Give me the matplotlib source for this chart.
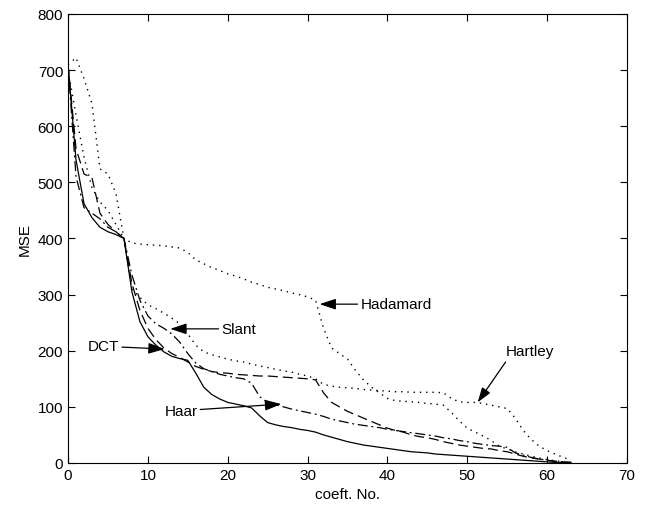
import matplotlib.pyplot as plt
import numpy as np

# numero do coeficiente (0..63)
coef = np.arange(64)

haar = [710, 540, 462, 437, 420, 412, 407, 400, 305, 252,
        225, 210, 198, 190, 186, 183, 160, 135, 122, 114,
        108, 105, 102, 98, 84, 72, 68, 65, 63, 60,
        58, 55, 50, 46, 42, 38, 35, 32, 30, 28,
        26, 24, 22, 20, 19, 18, 16, 15, 14, 13,
        12, 11, 10, 9, 8, 7, 6, 5, 4, 3,
        2, 1, 1, 0]
slant = [710, 560, 515, 508, 445, 425, 412, 400, 320, 272,
         240, 220, 205, 195, 188, 180, 172, 167, 163, 161,
         160, 158, 157, 156, 155, 155, 154, 153, 152, 151,
         150, 148, 125, 108, 100, 92, 86, 80, 74, 68,
         62, 58, 55, 50, 47, 45, 42, 38, 35, 32,
         30, 28, 26, 25, 22, 20, 16, 12, 9, 7,
         5, 3, 2, 1]
dct = [710, 510, 455, 445, 435, 420, 412, 400, 335, 290,
       262, 248, 240, 230, 215, 195, 178, 168, 163, 158,
       155, 152, 150, 142, 118, 108, 104, 100, 96, 93,
       90, 87, 83, 78, 75, 72, 69, 67, 65, 63,
       60, 58, 56, 54, 52, 50, 48, 45, 43, 40,
       38, 35, 33, 31, 30, 28, 18, 14, 10, 7,
       5, 3, 2, 1]
hadamard = [710, 722, 685, 640, 524, 515, 480, 400, 392, 390,
            389, 388, 387, 385, 383, 375, 362, 355, 348, 343,
            337, 333, 328, 322, 318, 313, 310, 307, 303, 300,
            296, 290, 240, 205, 195, 185, 165, 148, 135, 125,
            115, 111, 110, 109, 108, 106, 105, 103, 90, 75,
            62, 55, 48, 40, 30, 25, 20, 16, 12, 9,
            6, 4, 2, 1]
hartley = [700, 620, 545, 490, 465, 450, 425, 400, 310, 295,
           282, 275, 267, 258, 248, 230, 210, 198, 193, 189,
           185, 182, 180, 176, 173, 170, 167, 164, 162, 158,
           155, 150, 140, 137, 135, 134, 133, 131, 130, 129,
           128, 127, 127, 126, 126, 126, 126, 125, 115, 109,
           108, 108, 106, 103, 100, 97, 80, 58, 42, 30,
           22, 16, 10, 5]

fig = plt.figure(figsize=(6.48, 5.1), dpi=100)
ax = fig.add_axes([0.105, 0.0902, 0.8626, 0.8804])

# curvas
ax.plot(coef, haar, color='black', linestyle='-', linewidth=0.9)
ax.plot(coef, slant, color='black', linestyle=(0, (8, 4)), linewidth=0.9)
ax.plot(coef, dct, color='black', linestyle=(0, (8, 3, 1.5, 3)), linewidth=0.9)
ax.plot(coef, hadamard, color='black', linestyle=(0, (1, 3.5)), linewidth=1.0)
ax.plot(coef, hartley, color='black', linestyle=(0, (1, 3.5)), linewidth=1.0)

# setas com os nomes
seta = dict(arrowstyle='-|>,head_length=0.9,head_width=0.3', color='black',
            linewidth=0.9, shrinkA=0, shrinkB=0)
fonte = dict(fontsize=11, family='Liberation Sans', va='center')
ax.annotate('Hadamard', xy=(31.5, 283), xytext=(36.6, 283), arrowprops=seta, ha='left', **fonte)
ax.annotate('Slant', xy=(12.8, 239), xytext=(19.2, 239), arrowprops=seta, ha='left', **fonte)
ax.annotate('DCT', xy=(12.1, 203), xytext=(6.4, 208), arrowprops=seta, ha='right', **fonte)
ax.annotate('Haar', xy=(26.7, 105), xytext=(16.2, 93), arrowprops=seta, ha='right', **fonte)
ax.text(54.8, 200, 'Hartley', ha='left', **fonte)
ax.annotate('', xy=(51.3, 108), xytext=(54.8, 180), arrowprops=seta)

ax.set_xlim(0, 70)
ax.set_ylim(0, 800)
ax.set_xticks(np.arange(0, 71, 10))
ax.set_yticks(np.arange(0, 801, 100))
ax.tick_params(direction='in', top=True, right=True, length=5, labelsize=11)
for lab in ax.get_xticklabels() + ax.get_yticklabels():
    lab.set_family('Liberation Sans')
ax.set_xlabel('coeft. No.', fontsize=11, family='Liberation Sans')
ax.set_ylabel('MSE', fontsize=11, family='Liberation Sans')

plt.savefig('out.png', dpi=100)
